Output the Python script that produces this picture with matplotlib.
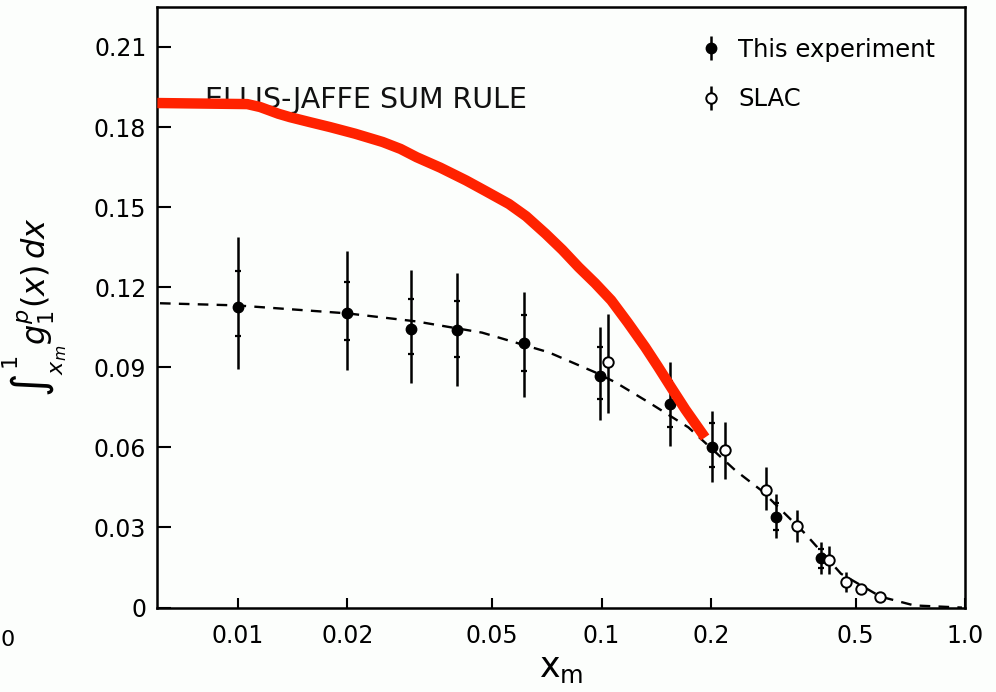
"""
    Integral of g1 proton vs lower limit x_m, with Ellis-Jaffe prediction
"""

import matplotlib
matplotlib.use("Agg")
import numpy as np
from matplotlib import pyplot as plt
from matplotlib import ticker

# This experiment
exp_x = [0.010, 0.020, 0.030, 0.040, 0.061, 0.099, 0.154, 0.201, 0.302, 0.401]
exp_y = [0.1125, 0.1102, 0.1042, 0.1039, 0.0990, 0.0866, 0.0761, 0.0600, 0.0341, 0.0184]
exp_tot_hi = [0.1387, 0.1335, 0.1264, 0.1252, 0.1181, 0.1050, 0.0919, 0.0735, 0.0427, 0.0244]
exp_tot_lo = [0.0892, 0.0889, 0.0840, 0.0829, 0.0787, 0.0701, 0.0604, 0.0472, 0.0262, 0.0127]
exp_stat_hi = [0.1260, 0.1219, 0.1155, 0.1147, 0.1095, 0.0975, 0.0850, 0.0690, 0.0390, 0.0220]
exp_stat_lo = [0.1016, 0.1001, 0.0949, 0.0937, 0.0885, 0.0780, 0.0675, 0.0525, 0.0290, 0.0150]

# SLAC
slac_x = [0.104, 0.219, 0.283, 0.344, 0.421, 0.469, 0.516, 0.585]
slac_y = [0.0919, 0.0592, 0.0442, 0.0307, 0.0180, 0.0097, 0.0071, 0.0041]
slac_hi = [0.1100, 0.0694, 0.0525, 0.0364, 0.0229, 0.0135, 0.0071, 0.0041]
slac_lo = [0.0727, 0.0480, 0.0364, 0.0247, 0.0127, 0.0060, 0.0071, 0.0041]

# dashed curve through the data
fit_x = [0.0061, 0.0099, 0.0141, 0.020, 0.0309, 0.0469, 0.0716, 0.0961, 0.1091,
         0.1347, 0.1733, 0.2333, 0.275, 0.363, 0.4554, 0.585, 0.7244, 0.98]
fit_y = [0.1140, 0.1132, 0.1117, 0.1102, 0.1072, 0.1030, 0.0956, 0.0881, 0.0844,
         0.0769, 0.0675, 0.0514, 0.0439, 0.0277, 0.0127, 0.0041, 0.0008, 0.0]

# Ellis-Jaffe sum rule curve
ej_x = [0.0060, 0.0106, 0.0115, 0.0121, 0.0129, 0.0139, 0.0158, 0.0179, 0.0210,
        0.0250, 0.0280, 0.0310, 0.0360, 0.0424, 0.0480, 0.0556, 0.0620, 0.0702,
        0.0780, 0.0865, 0.0960, 0.1063, 0.1180, 0.1319, 0.1430, 0.1553, 0.1700,
        0.1926]
ej_y = [0.1890, 0.1886, 0.1875, 0.1864, 0.1850, 0.1837, 0.1818, 0.1800, 0.1775,
        0.1744, 0.1718, 0.1687, 0.1648, 0.1600, 0.1560, 0.1512, 0.1466, 0.1400,
        0.1340, 0.1275, 0.1215, 0.1151, 0.1068, 0.0975, 0.0902, 0.0825, 0.0742,
        0.0637]

x_ticks = [0.01, 0.02, 0.05, 0.1, 0.2, 0.5, 1.0]
x_ticklabels = ["0.01", "0.02", "0.05", "0.1", "0.2", "0.5", "1.0"]
y_ticks = [0, 0.03, 0.06, 0.09, 0.12, 0.15, 0.18, 0.21]


def y_format(v, p):
    return "0" if abs(v) < 1e-9 else "%.2f" % v


fig = plt.figure(figsize=(9.96, 6.92), dpi=100)
fig.patch.set_facecolor("#fcfefc")
ax = fig.add_axes([0.158, 0.122, 0.811, 0.868])
ax.set_facecolor("#fcfefc")

ex = np.array(exp_x)
ey = np.array(exp_y)
tot_err = [ey - np.array(exp_tot_lo), np.array(exp_tot_hi) - ey]
stat_err = [ey - np.array(exp_stat_lo), np.array(exp_stat_hi) - ey]
sy = np.array(slac_y)
slac_err = [sy - np.array(slac_lo), np.array(slac_hi) - sy]

ax.plot(fit_x, fit_y, color="black", lw=1.7, dashes=(4.5, 3.5), zorder=2)

h_exp = ax.errorbar(exp_x, exp_y, yerr=tot_err, fmt="o", color="black", ms=7.5,
                    elinewidth=1.8, capsize=0, zorder=3)
ax.errorbar(exp_x, exp_y, yerr=stat_err, fmt="none", ecolor="black", elinewidth=0,
            capsize=2.5, capthick=1.6, zorder=3)
h_slac = ax.errorbar(slac_x, slac_y, yerr=slac_err, fmt="o", color="black", mfc="white",
                     mec="black", mew=1.4, ms=7.5, elinewidth=1.8, capsize=0, zorder=3)

ax.text(0.00812, 0.190, "ELLIS-JAFFE SUM RULE", fontsize=20.5, va="center", ha="left",
        color="#111111", zorder=1)
ax.plot(ej_x, ej_y, color="#ff2200", lw=7.5, solid_capstyle="butt",
        solid_joinstyle="round", zorder=4)

ax.set_xscale("log")
ax.set_xlim(0.006, 1.0)
ax.set_ylim(0, 0.225)
ax.set_xticks(x_ticks)
ax.set_xticklabels(x_ticklabels)
ax.xaxis.set_minor_locator(ticker.NullLocator())
ax.set_yticks(y_ticks)
ax.yaxis.set_major_formatter(ticker.FuncFormatter(y_format))

ax.tick_params(axis="both", which="major", direction="in", labelsize=17, width=1.5)
ax.tick_params(axis="y", length=10, pad=8)
ax.tick_params(axis="x", length=7, pad=12)
for s in ax.spines.values():
    s.set_linewidth(1.8)

ax.set_xlabel(r"$\mathregular{x_m}$", fontsize=25, labelpad=2)
ax.set_ylabel(r"$\int_{x_m}^{1} g_1^{p}(x)\,dx$", fontsize=23, labelpad=18)

ax.legend([h_exp, h_slac], ["This experiment", "SLAC"], loc="upper right",
          frameon=False, fontsize=17.5, handlelength=0.8, handletextpad=0.7,
          labelspacing=1.05, bbox_to_anchor=(0.99, 0.985))

fig.text(0.001, 0.075, "0", fontsize=16, ha="left", va="center")

fig.savefig("out.png", dpi=100, facecolor=fig.get_facecolor())
